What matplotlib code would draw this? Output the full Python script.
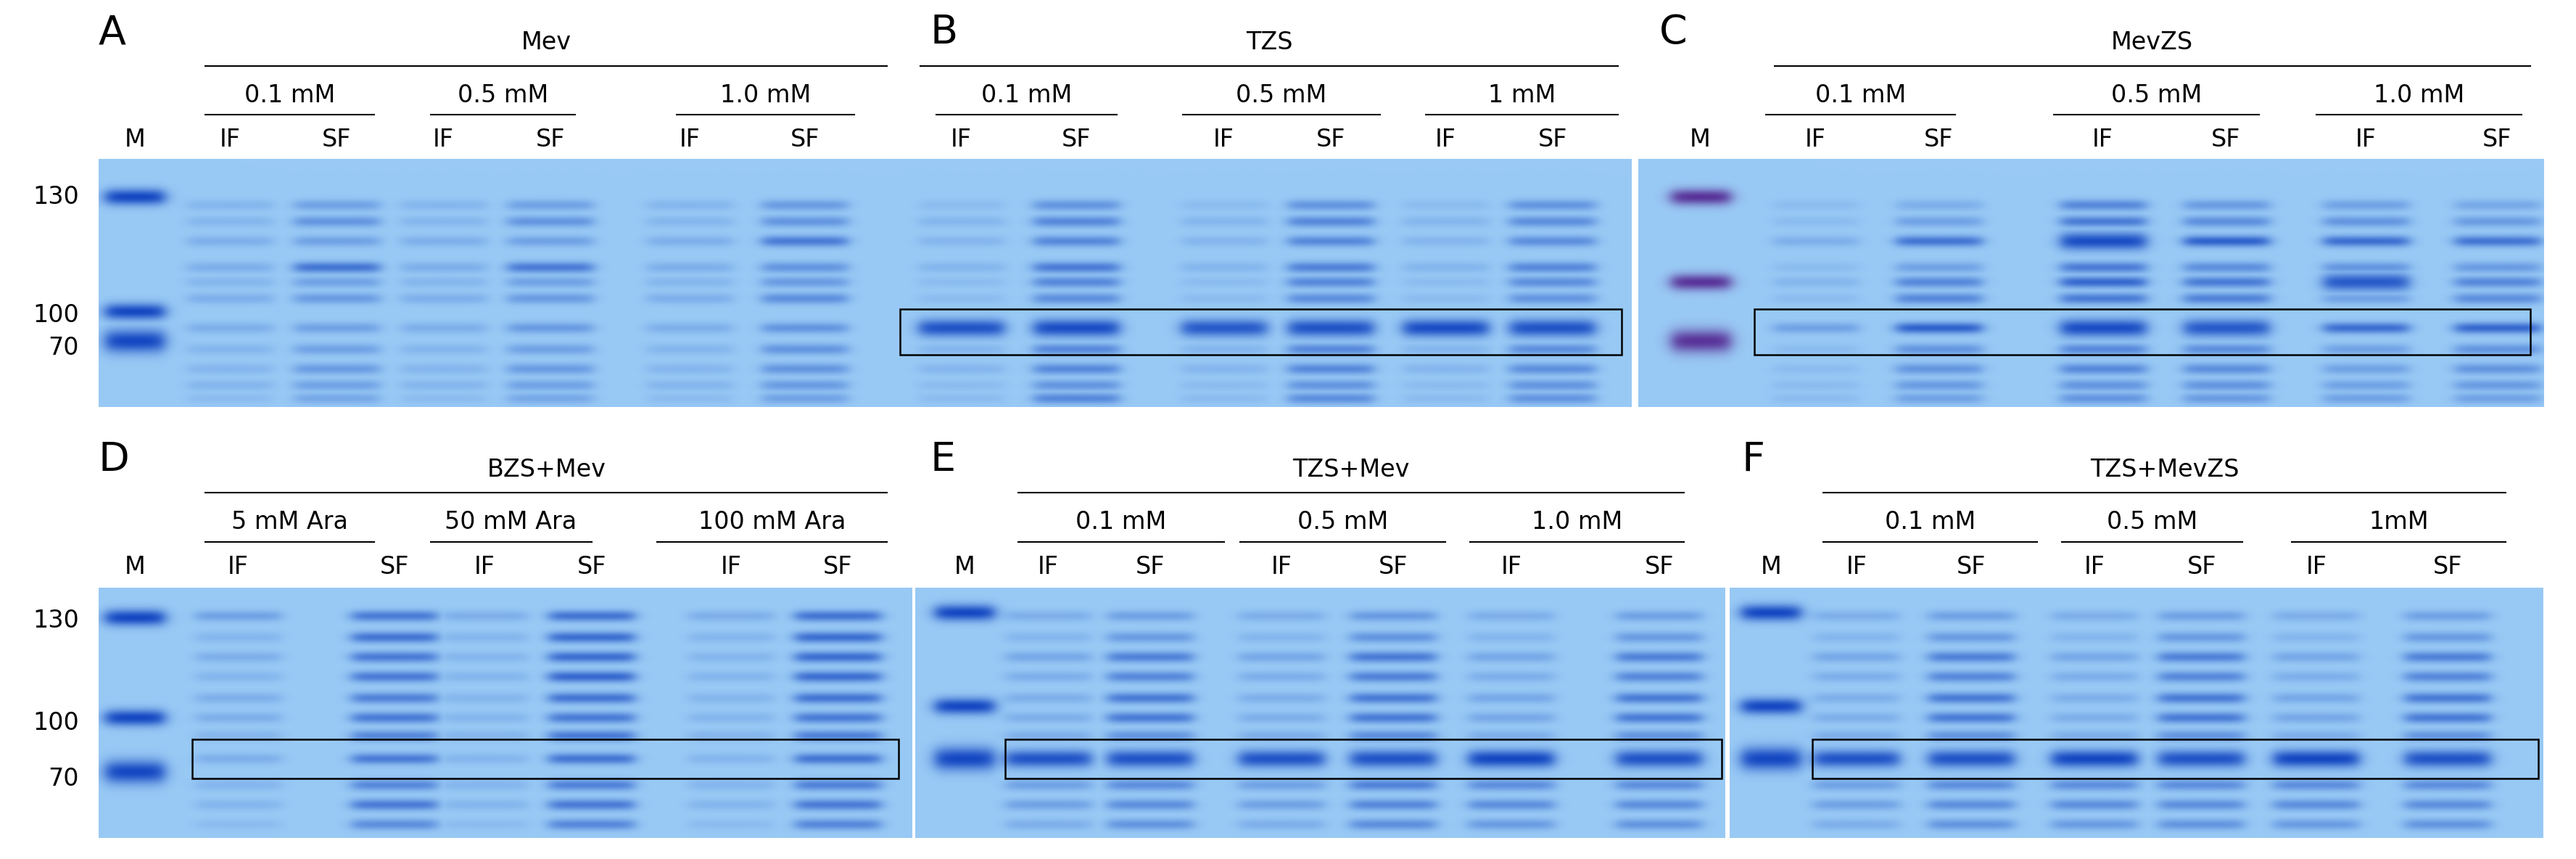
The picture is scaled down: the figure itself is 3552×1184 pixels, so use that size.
import numpy as np
import matplotlib
matplotlib.use("Agg")
import matplotlib.pyplot as plt
from matplotlib.patches import Rectangle

# ---------------- data ----------------
panel_letters = ["A", "B", "C", "D", "E", "F"]
panel_titles = ["Mev", "TZS", "MevZS", "BZS+Mev", "TZS+Mev", "TZS+MevZS"]
conc_labels = [["0.1 mM", "0.5 mM", "1.0 mM"], ["0.1 mM", "0.5 mM", "1 mM"],
               ["0.1 mM", "0.5 mM", "1.0 mM"], ["5 mM Ara", "50 mM Ara", "100 mM Ara"],
               ["0.1 mM", "0.5 mM", "1.0 mM"], ["0.1 mM", "0.5 mM", "1mM"]]
lane_names = ["IF", "SF", "IF", "SF", "IF", "SF"]
marker_labels = ["130", "100", "70"]
band_rows_top = [125, 135, 147, 163, 172, 182, 200, 213, 225, 235, 243]
band_rows_bot = [375, 388, 400, 412, 425, 437, 448, 462, 478, 490, 502]
IFlow = [.15, .15, .2, .2, .15, .2, .2, .15, .15, .15, .1]
intens = {
 "A": [IFlow, [.3, .4, .3, .65, .3, .35, .3, .3, .35, .3, .25],
       IFlow, [.3, .4, .3, .6, .3, .35, .35, .3, .35, .3, .25],
       IFlow, [.35, .4, .6, .4, .35, .45, .4, .4, .4, .35, .3]],
 "B": [[.1, .15, .15, .15, .1, .1, .9, .15, .15, .1, .1], [.4, .5, .5, .6, .5, .45, .95, .5, .5, .4, .5],
       [.1, .15, .15, .15, .1, .1, .85, .15, .15, .1, .1], [.4, .5, .5, .55, .5, .45, .9, .5, .5, .4, .45],
       [.1, .15, .15, .15, .1, .1, .95, .15, .15, .1, .1], [.4, .45, .45, .5, .45, .4, .9, .45, .45, .4, .4]],
 "C": [[.1, .1, .2, .1, .15, .1, .3, .1, .1, .1, .1], [.2, .3, .65, .3, .5, .5, .8, .4, .4, .35, .3],
       [.5, .6, .95, .6, .75, .6, .95, .5, .5, .4, .4], [.35, .45, .8, .45, .6, .55, .85, .45, .45, .4, .35],
       [.3, .4, .7, .4, .85, .3, .7, .3, .3, .3, .3], [.25, .35, .65, .35, .5, .45, .75, .4, .4, .35, .3]],
 "D": [[.3, .15, .2, .15, .2, .2, .15, .2, .15, .15, .1], [.6, .65, .6, .6, .55, .6, .5, .6, .5, .6, .45],
       [.2, .15, .15, .15, .15, .15, .15, .15, .15, .15, .1], [.65, .7, .7, .75, .65, .6, .6, .65, .55, .6, .5],
       [.2, .15, .15, .15, .15, .15, .15, .15, .15, .15, .1], [.65, .7, .7, .7, .65, .6, .55, .65, .55, .6, .5]],
 "E": [[.2, .15, .25, .2, .2, .2, .2, .9, .3, .3, .2], [.3, .35, .55, .5, .6, .6, .4, .9, .45, .45, .4],
       [.2, .15, .25, .2, .2, .2, .2, .9, .3, .3, .2], [.35, .4, .6, .55, .6, .6, .45, .9, .55, .5, .45],
       [.2, .15, .25, .2, .25, .25, .2, 1.0, .45, .45, .35], [.3, .35, .55, .5, .6, .6, .4, .9, .45, .45, .4]],
 "F": [[.2, .15, .25, .2, .2, .2, .2, .9, .3, .3, .2], [.3, .35, .55, .5, .6, .6, .4, .9, .45, .45, .4],
       [.2, .15, .25, .2, .2, .2, .2, 1.0, .45, .45, .35], [.3, .35, .55, .5, .6, .6, .4, .9, .45, .45, .4],
       [.2, .15, .25, .2, .25, .25, .2, 1.0, .45, .45, .35], [.3, .35, .55, .5, .6, .6, .4, .9, .45, .45, .4]],
}
# ------------- layout (display units, 1568 x 523) -------------
gels = {"A": (60, 545, 97, 248), "B": (545, 993, 97, 248), "C": (997, 1548, 97, 248),
        "D": (60, 555, 358, 510), "E": (557, 1050, 358, 510), "F": (1053, 1548, 358, 510)}
lane_x = {"A": [140, 205, 270, 335, 420, 490], "B": [585, 655, 745, 810, 880, 945],
          "C": [1105, 1180, 1280, 1355, 1440, 1520], "D": [145, 240, 295, 360, 445, 510],
          "E": [638, 700, 780, 848, 920, 1010], "F": [1130, 1200, 1275, 1340, 1410, 1490]}
marker_x = {"A": 82, "C": 1035, "D": 82, "E": 587, "F": 1078}
marker_y = {"A": [120, 190, 208], "C": [120, 172, 208], "D": [376, 437, 470],
            "E": [373, 430, 462], "F": [373, 430, 462]}
title_line = {"A": (125, 540), "B": (560, 985), "C": (1080, 1540), "D": (125, 540),
              "E": (620, 1025), "F": (1110, 1525)}
conc_lines = {"A": [(125, 228), (262, 350), (412, 520)], "B": [(570, 680), (720, 840), (868, 985)],
              "C": [(1075, 1190), (1250, 1375), (1410, 1535)], "D": [(125, 228), (262, 360), (400, 540)],
              "E": [(620, 745), (755, 880), (895, 1025)], "F": [(1110, 1240), (1255, 1365), (1395, 1525)]}
boxes = {"B": (548, 987, 188, 216), "C": (1068, 1540, 188, 216), "D": (117, 547, 450, 474),
         "E": (612, 1048, 450, 474), "F": (1103, 1545, 450, 474)}

W, H = 1568, 523
fig = plt.figure(figsize=(35.52, 11.84), dpi=100)
ax = fig.add_axes([0, 0, 1, 1])
ax.set_xlim(0, W); ax.set_ylim(H, 0); ax.axis("off")

bg = np.array([0.60, 0.79, 0.96]); dark = np.array([0.08, 0.28, 0.76])
mdark = {"C": np.array([0.35, 0.20, 0.60])}
fs = 24
for i, p in enumerate(panel_letters):
    x0, x1, y0, y1 = gels[p]
    top = i < 3
    rows = band_rows_top if top else band_rows_bot
    xs = np.linspace(x0, x1, int((x1 - x0) * 2)); ys = np.linspace(y0, y1, int((y1 - y0) * 2))
    X, Y = np.meshgrid(xs, ys)
    I = np.zeros_like(X)
    for li, lx in enumerate(lane_x[p]):
        prof = 1 / (1 + np.exp((np.abs(X - lx) - 26) / 2.5))
        for by, val in zip(rows, intens[p][li]):
            sig = 3.8 if val > 0.8 else 2.4
            I = np.maximum(I, val * prof * np.exp(-0.5 * ((Y - by) / sig) ** 2))
    img = bg[None, None, :] * (1 - I[..., None]) + dark[None, None, :] * I[..., None]
    if p in marker_x:
        mx = marker_x[p]
        prof = 1 / (1 + np.exp((np.abs(X - mx) - 18) / 2.5))
        M = np.zeros_like(X)
        for k, my in enumerate(marker_y[p]):
            sig = 5 if k == 2 else 3.5
            M = np.maximum(M, prof * np.exp(-0.5 * ((Y - my) / sig) ** 2))
        mc = mdark.get(p, dark)
        img = img * (1 - M[..., None]) + mc[None, None, :] * M[..., None]
    ax.imshow(img, extent=(x0, x1, y1, y0), aspect="auto", interpolation="bilinear", zorder=1)
    base = 0 if top else 260
    ax.text({"A": 60, "B": 566, "C": 1010, "D": 60, "E": 566, "F": 1060}[p], base + 20, p,
            fontsize=40, ha="left", va="center")
    t0, t1 = title_line[p]
    ax.plot([t0, t1], [base + 40, base + 40], color="black", lw=1.5)
    ax.text((t0 + t1) / 2, base + 26, panel_titles[i], fontsize=fs, ha="center", va="center")
    for (c0, c1), lab in zip(conc_lines[p], conc_labels[i]):
        ax.plot([c0, c1], [base + 70, base + 70], color="black", lw=1.5)
        ax.text((c0 + c1) / 2, base + 58, lab, fontsize=fs, ha="center", va="center")
    for lx, nm in zip(lane_x[p], lane_names):
        ax.text(lx, base + 85, nm, fontsize=fs, ha="center", va="center")
    if p in marker_x:
        ax.text(marker_x[p], base + 85, "M", fontsize=fs, ha="center", va="center")
    if p in boxes:
        bx0, bx1, by0, by1 = boxes[p]
        ax.add_patch(Rectangle((bx0, by0), bx1 - bx0, by1 - by0, fill=False, ec="black", lw=1.8, zorder=3))

for y, lab in zip([120, 192, 212], marker_labels):
    ax.text(48, y, lab, fontsize=fs, ha="right", va="center")
for y, lab in zip([378, 440, 474], marker_labels):
    ax.text(48, y, lab, fontsize=fs, ha="right", va="center")

fig.savefig("out.png", dpi=100)
